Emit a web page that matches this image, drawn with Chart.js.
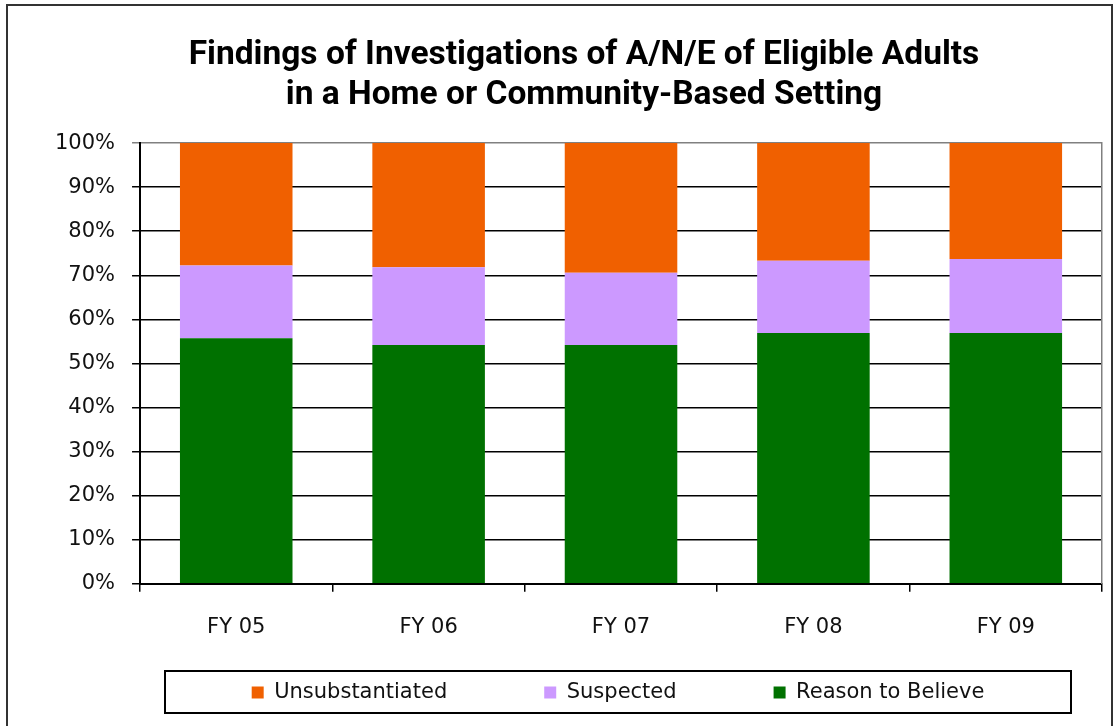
<!DOCTYPE html>
<html>
<head>
<meta charset="utf-8">
<script src="https://cdn.jsdelivr.net/npm/chart.js@4.4.1/dist/chart.umd.min.js"></script>
<style>
    body { margin: 0; background: #fff; }
    #wrap { width: 1117px; height: 726px; position: relative; }
</style>
</head>
<body>
<div id="wrap"><canvas id="findingsChart"></canvas></div>
<script>
let fiscalYears = ['FY 05', 'FY 06', 'FY 07', 'FY 08', 'FY 09'];
let reasonToBelieve = [55.7, 54.2, 54.2, 56.9, 56.9];
let suspected = [16.5, 17.6, 16.4, 16.4, 16.8];
let unsubstantiated = [27.8, 28.2, 29.4, 26.7, 26.3];
let percentTicks = [0, 10, 20, 30, 40, 50, 60, 70, 80, 90, 100];

const tickFont = { family: 'DejaVu Sans', size: 21 };

// legend gets wide spacing, so it is moved back up and framed by hand
const legendFrame = {
    id: 'legendFrame',
    afterLayout(chart) {
        const lg = chart.legend;
        chart.$frameTop = lg.top + 8;
        chart.$frameBottom = lg.bottom;
        lg.top -= 78;   // bottom stays, legend clips to its box
        lg.left += 44;
        lg.right += 44;
        chart.titleBlock.left += 10;
        chart.titleBlock.right += 10;
    },
    beforeDraw(chart) {
        const ctx = chart.ctx;
        ctx.save();
        ctx.fillStyle = '#fff';
        ctx.fillRect(0, 0, chart.width, chart.height);
        ctx.strokeStyle = '#333';
        ctx.lineWidth = 2;
        ctx.strokeRect(7, 5, chart.width - 12, chart.height + 20);
        ctx.restore();
    },
    afterDraw(chart) {
        const lg = chart.legend;
        const ctx = chart.ctx;
        const mid = (lg.left + lg.right) / 2;
        ctx.save();
        ctx.strokeStyle = '#000';
        ctx.lineWidth = 2;
        ctx.strokeRect(mid - 453, chart.$frameTop, 906, chart.$frameBottom - chart.$frameTop);
        ctx.restore();
    }
};

const ctx = document.getElementById('findingsChart').getContext('2d');
const findingsChart = new Chart(ctx, {
    type: 'bar',
    data: {
        labels: fiscalYears,
        datasets: [{
            label: 'Reason to Believe',
            data: reasonToBelieve,
            backgroundColor: '#007100'
        }, {
            label: 'Suspected',
            data: suspected,
            backgroundColor: '#CC99FF'
        }, {
            label: 'Unsubstantiated',
            data: unsubstantiated,
            backgroundColor: '#F06000'
        }]
    },
    options: {
        responsive: true,
        maintainAspectRatio: false,
        animation: false,
        datasets: {
            bar: {
                barPercentage: 0.585,
                categoryPercentage: 1,
                borderWidth: 0
            }
        },
        layout: {
            padding: { left: 38, right: 7, top: 0, bottom: 13 }
        },
        scales: {
            x: {
                stacked: true,
                grid: {
                    drawOnChartArea: false,
                    drawTicks: true,
                    tickLength: 8,
                    color: '#000',
                    lineWidth: 1.5
                },
                border: { color: '#000', width: 2 },
                ticks: { font: tickFont, color: '#111', padding: 23 }
            },
            y: {
                stacked: true,
                min: 0,
                max: 100,
                afterBuildTicks: function (scale) {
                    scale.ticks = percentTicks.map(v => ({ value: v }));
                },
                grid: {
                    tickLength: 8,
                    color: function (c) {
                        return c.tick && c.tick.value === 100 ? '#808080' : '#000';
                    },
                    lineWidth: 1.5
                },
                border: { color: '#000', width: 2 },
                ticks: {
                    font: tickFont,
                    color: '#111',
                    padding: 17,
                    callback: function (value) {
                        return value + '%';
                    }
                }
            },
            yRight: {
                position: 'right',
                min: 0,
                max: 100,
                grid: { display: false },
                ticks: { display: false },
                border: { color: '#808080', width: 1.5 }
            }
        },
        plugins: {
            title: {
                display: true,
                text: ['Findings of Investigations of A/N/E of Eligible Adults', 'in a Home or Community-Based Setting'],
                color: '#000',
                font: { family: 'Roboto', size: 33.5, weight: 'bold', lineHeight: 1.18 },
                padding: { top: 36, bottom: 28 }
            },
            legend: {
                position: 'bottom',
                reverse: true,
                maxHeight: 50,
                onClick: null,
                labels: {
                    font: tickFont,
                    color: '#111',
                    boxWidth: 12,
                    boxHeight: 12,
                    padding: 97
                }
            },
            tooltip: { enabled: false }
        }
    },
    plugins: [legendFrame]
});
</script>
</body>
</html>
